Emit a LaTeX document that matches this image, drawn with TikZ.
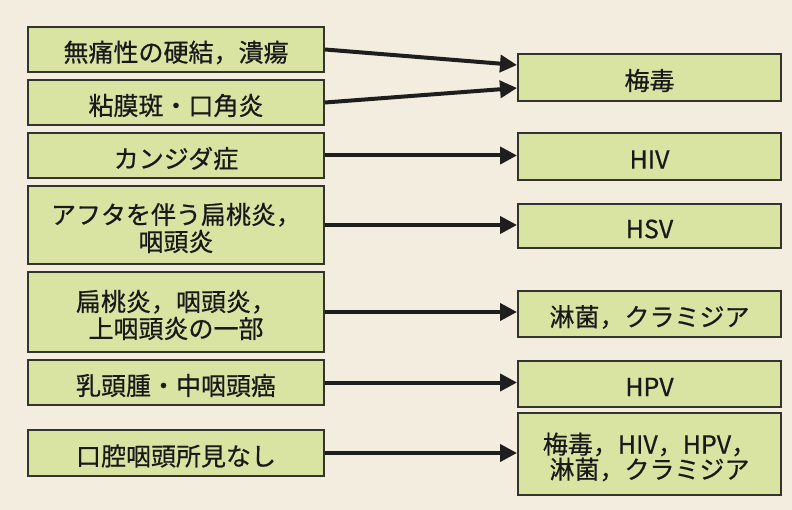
\documentclass[tikz,border=0pt]{standalone}
\usepackage{fontspec}
\setmainfont[FakeBold=0.6]{Noto Sans CJK JP}
\usetikzlibrary{arrows.meta}
\definecolor{paper}{HTML}{F2EDDF}
\definecolor{boxfill}{HTML}{DAE4A2}
\definecolor{boxline}{HTML}{34342F}
\definecolor{arrowcol}{HTML}{1E1E1E}
\tikzset{
  box/.style={draw=boxline, line width=2pt, fill=boxfill, inner sep=0pt},
  lbox/.style={box, minimum width=296pt},
  rbox/.style={box, minimum width=263pt},
  textlab/.style={align=center, inner sep=0pt, yshift=-3pt, font=\fontsize{25}{27}\selectfont, text=black!90},
  conn/.style={draw=arrowcol, line width=4pt, -{Triangle[length=17pt,width=17pt]}}
}
\begin{document}
\begin{tikzpicture}[x=1pt,y=-1pt]
\fill[paper] (0,0) rectangle (792,510);
\useasboundingbox (0,0) rectangle (792,510);
% left boxes
\node[lbox, minimum height=45pt, label={[textlab]center:{無痛性の硬結，潰瘍}}] (L1) at (176,49.5) {};
\node[lbox, minimum height=45pt, label={[textlab]center:{粘膜斑・口角炎}}] (L2) at (176,102.5) {};
\node[lbox, minimum height=45pt, label={[textlab]center:{カンジダ症}}] (L3) at (176,155.5) {};
\node[lbox, minimum height=78pt, label={[textlab]center:{アフタを伴う扁桃炎，\\咽頭炎}}] (L4) at (176,225) {};
\node[lbox, minimum height=80pt, label={[textlab]center:{扁桃炎，咽頭炎，\\上咽頭炎の一部}}] (L5) at (176,312) {};
\node[lbox, minimum height=45pt, label={[textlab]center:{乳頭腫・中咽頭癌}}] (L6) at (176,382.5) {};
\node[lbox, minimum height=46pt, label={[textlab]center:{口腔咽頭所見なし}}] (L7) at (176,453) {};
% right boxes
\node[rbox, minimum height=47pt, label={[textlab]center:{梅毒}}] (R1) at (649.5,77.5) {};
\node[rbox, minimum height=47pt, label={[textlab]center:{HIV}}] (R2) at (649.5,156.5) {};
\node[rbox, minimum height=44pt, label={[textlab]center:{HSV}}] (R3) at (649.5,226) {};
\node[rbox, minimum height=46pt, label={[textlab]center:{淋菌，クラミジア}}] (R4) at (649.5,314) {};
\node[rbox, minimum height=46pt, label={[textlab]center:{HPV}}] (R5) at (649.5,384) {};
\node[rbox, minimum height=82pt, label={[textlab, font=\fontsize{25}{25}\selectfont]center:{梅毒，HIV，HPV，\\淋菌，クラミジア}}] (R6) at (649.5,454) {};
% connectors
\draw[conn] (L1.east) -- ([yshift=12.5pt]R1.west);
\draw[conn] (L2.east) -- ([yshift=-10.5pt]R1.west);
\draw[conn] (L3.east) -- (L3.east -| R2.west);
\draw[conn] (L4.east) -- (L4.east -| R3.west);
\draw[conn] (L5.east) -- (L5.east -| R4.west);
\draw[conn] (L6.east) -- (L6.east -| R5.west);
\draw[conn] (L7.east) -- (L7.east -| R6.west);
\end{tikzpicture}
\end{document}
